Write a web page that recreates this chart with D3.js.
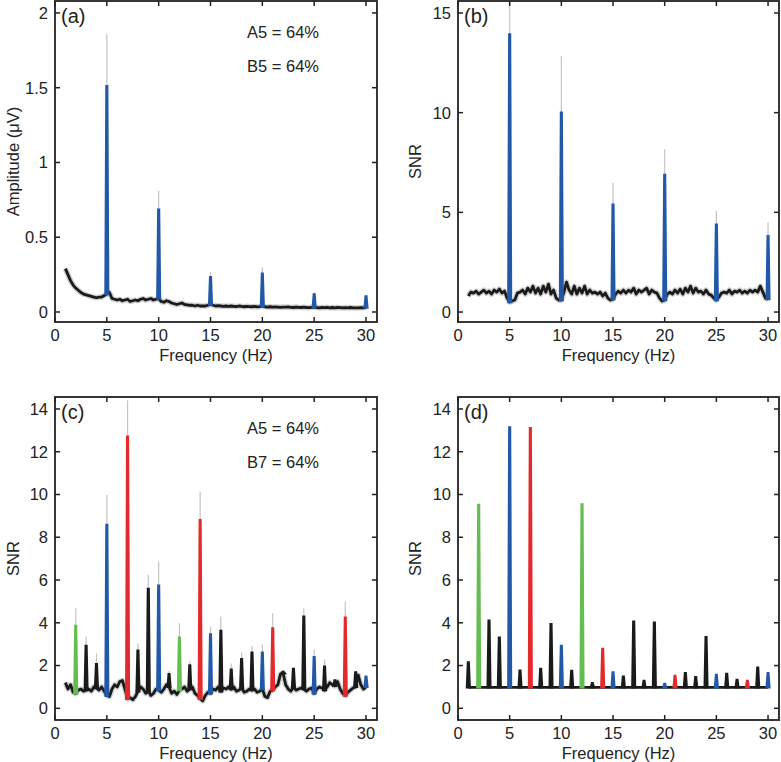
<!DOCTYPE html>
<html><head><meta charset="utf-8">
<script src="https://cdn.jsdelivr.net/npm/d3@7"></script>
<style>body{margin:0;background:#fff}svg{display:block}text{font-family:"Liberation Sans",Arial,Helvetica,sans-serif;fill:#222}</style>
</head><body><svg id="chart" width="781" height="762"></svg>
<script>
// ---- data ----
const noiseStart = 1, noiseStep = 0.25;
const xTicks = [0, 5, 10, 15, 20, 25, 30];

const noiseA = [
 0.29,0.25,0.21,0.18, 0.16,0.145,0.13,0.12, 0.115,0.11,0.105,0.10, 0.095,0.10,0.10,0.11,
 0.12,0.13,0.09,0.085, 0.08,0.085,0.075,0.08, 0.085,0.07,0.075,0.08, 0.075,0.085,0.09,0.08,
 0.085,0.09,0.08,0.085, 0.09,0.07,0.065,0.075, 0.07,0.06,0.055,0.05, 0.055,0.06,0.05,0.048,
 0.045,0.045,0.04,0.045, 0.04,0.04,0.04,0.045, 0.05,0.045,0.04,0.042, 0.04,0.038,0.04,0.037,
 0.04,0.038,0.036,0.04, 0.037,0.035,0.038,0.036, 0.035,0.037,0.034,0.036, 0.04,0.035,0.033,0.035,
 0.032,0.034,0.033,0.031, 0.033,0.032,0.034,0.031, 0.03,0.033,0.031,0.03, 0.032,0.03,0.029,0.031,
 0.033,0.03,0.028,0.03, 0.029,0.031,0.028,0.03, 0.028,0.03,0.029,0.027, 0.029,0.028,0.03,0.027,
 0.028,0.027,0.029,0.028, 0.03];

const noiseB = [
 0.8,1.0,0.95,1.05, 0.9,1.0,1.1,0.95, 1.05,0.9,1.1,1.0, 1.15,0.95,1.05,0.7,
 0.5,0.55,0.6,0.95, 1.0,1.1,0.9,1.2, 1.0,1.3,0.95,1.2, 0.9,1.3,1.0,1.4,
 0.9,1.1,0.7,0.6, 0.6,1.0,1.5,1.1, 0.9,1.3,0.9,1.2, 0.95,1.3,0.9,1.1,
 0.95,1.0,0.9,1.0, 0.8,0.95,0.7,0.6, 0.65,0.9,1.05,0.95, 1.1,0.95,1.1,1.0,
 1.2,0.9,1.1,1.0, 1.1,1.2,0.9,1.1, 1.0,0.95,0.7,0.55, 0.6,0.9,1.0,0.9,
 1.1,0.95,1.15,0.9, 1.2,1.0,1.3,0.95, 1.2,1.0,1.05,0.9, 1.1,0.9,0.85,0.7,
 0.6,0.75,0.95,1.0, 0.95,1.1,0.9,1.05, 1.0,1.1,0.95,1.05, 0.95,1.1,1.0,1.1,
 1.0,1.3,1.0,0.7, 0.65];

const noiseC = [
 1.2,0.9,1.1,0.75, 0.7,0.85,0.9,0.8, 0.85,0.9,0.8,1.0, 0.95,0.85,1.0,0.8,
 0.6,0.55,0.9,1.1, 1.0,1.25,1.3,0.9, 0.45,0.5,0.4,0.55, 0.8,1.0,0.9,0.7,
 0.8,0.6,0.7,0.9, 0.85,0.75,0.9,1.1, 1.0,0.7,0.8,0.65, 0.85,0.9,1.0,0.8,
 0.9,1.0,0.7,0.6, 0.45,0.35,0.6,0.75, 0.7,0.9,0.85,1.0, 0.8,0.95,0.9,1.0,
 0.9,1.0,0.8,0.85, 0.95,0.75,0.8,0.9, 0.85,0.9,0.75,0.8, 0.9,0.55,0.5,0.8,
 0.85,1.0,1.1,1.6, 1.65,1.1,0.9,0.8, 1.0,0.85,0.9,0.95, 0.9,0.8,0.9,0.95,
 0.7,0.9,1.0,0.95, 0.85,1.0,1.2,1.1, 1.05,1.25,0.9,0.7, 0.6,0.75,0.85,0.95,
 1.0,1.55,1.1,0.9, 1.0];

const baseD = 0.98;   // flat baseline of panel (d), 1–30 Hz
const baseDRange = [1, 30];

const peaksAFreq   = [5, 10, 15, 20, 25, 30];
const peaksAHeight = [1.51, 0.684, 0.233, 0.256, 0.118, 0.104];
const peaksAUpper  = [1.86, 0.81, 0.267, 0.30, 0.13, 0.11];
const peaksAColor  = ["blue","blue","blue","blue","blue","blue"];

const peaksBFreq   = [5, 10, 15, 20, 25, 30];
const peaksBHeight = [13.92, 10.0, 5.38, 6.88, 4.38, 3.8];
const peaksBUpper  = [16.0, 12.83, 6.5, 8.17, 5.08, 4.5];
const peaksBColor  = ["blue","blue","blue","blue","blue","blue"];

const peaksCFreq   = [2,3,4,5,7,8,9,10,11,12,13,14,15,16,17,18,19,20,21,22,23,24,25,26,27,28,29,30];
const peaksCHeight = [3.85,2.92,2.06,8.58,12.7,2.7,5.58,5.74,1.6,3.3,2.0,8.8,3.46,3.62,1.8,2.3,2.6,2.6,3.74,1.7,1.84,4.29,2.39,1.95,1.3,4.24,1.68,1.48];
const peaksCUpper  = [4.68,3.35,2.57,9.98,14.4,3.04,6.24,6.86,1.75,3.98,2.2,10.13,3.82,4.29,2.1,2.62,2.92,3.0,4.44,1.8,1.9,4.68,2.75,2.3,1.35,4.99,1.75,1.5];
const peaksCColor  = ["green","black","black","blue","red","black","black","blue","black","green","black","red","blue","black","black","black","black","blue","red","black","black","black","blue","black","black","red","black","blue"];

const peaksDFreq   = [1,2,3,4,5,6,7,8,9,10,11,12,13,14,15,16,17,18,19,20,21,22,23,24,25,26,27,28,29,30];
const peaksDHeight = [2.15,9.51,4.1,3.3,13.14,1.76,13.1,1.84,3.93,2.92,1.75,9.54,1.17,2.78,1.68,1.48,4.05,1.28,4.0,1.14,1.51,1.64,1.45,3.32,1.56,1.61,1.33,1.28,1.9,1.64];
const peaksDColor  = ["black","green","black","black","blue","black","red","black","black","blue","black","green","black","red","blue","black","black","black","black","blue","red","black","black","black","blue","black","black","red","black","blue"];

const labelsA = ["A5 = 64%", "B5 = 64%"];
const labelsC = ["A5 = 64%", "B7 = 64%"];

// ---- styles / layout ----
const colorMap = {blue:"#2158a8", red:"#e4292d", green:"#63bd4f", black:"#1a1a1a"};
const svg = d3.select("#chart");
const panels = [
  {id:"a", x0:55, x1:377, y0:1, y1:322, yDom:[-0.067,2.08], yTicks:[0,0.5,1,1.5,2], ylab:"Amplitude (\u03bcV)", ylx:19,
   noise:noiseA, pf:peaksAFreq, ph:peaksAHeight, pu:peaksAUpper, pc:peaksAColor, labels:labelsA},
  {id:"b", x0:458, x1:779, y0:1, y1:322, yDom:[-0.5,15.6], yTicks:[0,5,10,15], ylab:"SNR", ylx:421,
   noise:noiseB, pf:peaksBFreq, ph:peaksBHeight, pu:peaksBUpper, pc:peaksBColor},
  {id:"c", x0:55, x1:377, y0:397, y1:720, yDom:[-0.547,14.56], yTicks:[0,2,4,6,8,10,12,14], ylab:"SNR", ylx:19,
   noise:noiseC, pf:peaksCFreq, ph:peaksCHeight, pu:peaksCUpper, pc:peaksCColor, labels:labelsC},
  {id:"d", x0:458, x1:779, y0:397, y1:720, yDom:[-0.547,14.56], yTicks:[0,2,4,6,8,10,12,14], ylab:"SNR", ylx:421,
   pf:peaksDFreq, ph:peaksDHeight, pc:peaksDColor}
];

panels.forEach(p => {
  const x = d3.scaleLinear().domain([0, 31.06]).range([p.x0, p.x1]);
  const y = d3.scaleLinear().domain(p.yDom).range([p.y1, p.y0]);
  const g = svg.append("g");
  const clipId = "clip-" + p.id;
  svg.append("clipPath").attr("id", clipId).append("rect")
    .attr("x", p.x0).attr("y", p.y0).attr("width", p.x1 - p.x0).attr("height", p.y1 - p.y0);
  const plot = g.append("g").attr("clip-path", `url(#${clipId})`);
  const line = d3.line().x(d => x(d[0])).y(d => y(d[1]));

  const baseAt = f => {
    if (!p.noise) return baseD;
    const i = Math.max(0, Math.min(p.noise.length - 1, Math.round((f - noiseStart) / noiseStep)));
    return p.noise[i];
  };

  // gray upper error lines
  if (p.pu) {
    p.pf.forEach((f, i) => {
      plot.append("path").attr("d", line([[f, p.ph[i]], [f, p.pu[i]]]))
        .attr("stroke", "#c4c4c4").attr("stroke-width", 1.2).attr("fill", "none");
    });
  }

  // noise / baseline
  if (p.noise) {
    const pts = p.noise.map((v, i) => [noiseStart + i * noiseStep, v]);
    plot.append("path").attr("d", line(pts)).attr("fill", "none")
      .attr("stroke", "#8a8a8a").attr("stroke-opacity", 0.4).attr("stroke-width", 5.5).attr("stroke-linejoin", "round");
    plot.append("path").attr("d", line(pts)).attr("fill", "none")
      .attr("stroke", colorMap.black).attr("stroke-width", 2.8).attr("stroke-linejoin", "round");
  } else {
    plot.append("path").attr("d", line(baseDRange.map(f => [f, baseD]))).attr("fill", "none")
      .attr("stroke", colorMap.black).attr("stroke-width", 2.6);
  }

  // spikes
  p.pf.forEach((f, i) => {
    const b = baseAt(f);
    const h = p.ph[i];
    const col = colorMap[p.pc[i]];
    const shape = [[f - 0.13, b], [f - 0.035, h], [f + 0.035, h], [f + 0.13, b]];
    plot.append("path").attr("d", line(shape) + "Z")
      .attr("fill", col).attr("stroke", col).attr("stroke-width", 2.4).attr("stroke-linejoin", "miter");
  });

  // frame
  g.append("rect").attr("x", p.x0).attr("y", p.y0).attr("width", p.x1 - p.x0).attr("height", p.y1 - p.y0)
    .attr("fill", "none").attr("stroke", "#222").attr("stroke-width", 1.8);

  // ticks (inward, all sides)
  const tl = 5;
  xTicks.forEach(t => {
    g.append("line").attr("x1", x(t)).attr("x2", x(t)).attr("y1", p.y1).attr("y2", p.y1 - tl).attr("stroke", "#222").attr("stroke-width", 1.5);
    g.append("line").attr("x1", x(t)).attr("x2", x(t)).attr("y1", p.y0).attr("y2", p.y0 + tl).attr("stroke", "#222").attr("stroke-width", 1.5);
    g.append("text").attr("x", x(t)).attr("y", p.y1 + 19).attr("text-anchor", "middle")
      .attr("font-size", 16.5).text(t);
  });
  p.yTicks.forEach(t => {
    g.append("line").attr("x1", p.x0).attr("x2", p.x0 + tl).attr("y1", y(t)).attr("y2", y(t)).attr("stroke", "#222").attr("stroke-width", 1.5);
    g.append("line").attr("x1", p.x1).attr("x2", p.x1 - tl).attr("y1", y(t)).attr("y2", y(t)).attr("stroke", "#222").attr("stroke-width", 1.5);
    g.append("text").attr("x", p.x0 - 7).attr("y", y(t)).attr("dy", "0.36em").attr("text-anchor", "end")
      .attr("font-size", 16.5).text(t);
  });

  // axis titles
  g.append("text").attr("x", (p.x0 + p.x1) / 2).attr("y", p.y1 + 39).attr("text-anchor", "middle")
    .attr("font-size", 16.5).text("Frequency (Hz)");
  g.append("text").attr("transform", `translate(${p.ylx},${(p.y0 + p.y1) / 2}) rotate(-90)`)
    .attr("text-anchor", "middle").attr("font-size", 16.5).text(p.ylab);

  // panel label
  g.append("text").attr("x", p.x0 + 6).attr("y", p.y0 + 22).attr("font-size", 20).text(`(${p.id})`);

  if (p.labels) {
    p.labels.forEach((s, i) => {
      g.append("text").attr("x", p.x0 + 192).attr("y", p.y0 + 37 + i * 34).attr("font-size", 16.5).text(s);
    });
  }
});
</script></body></html>
